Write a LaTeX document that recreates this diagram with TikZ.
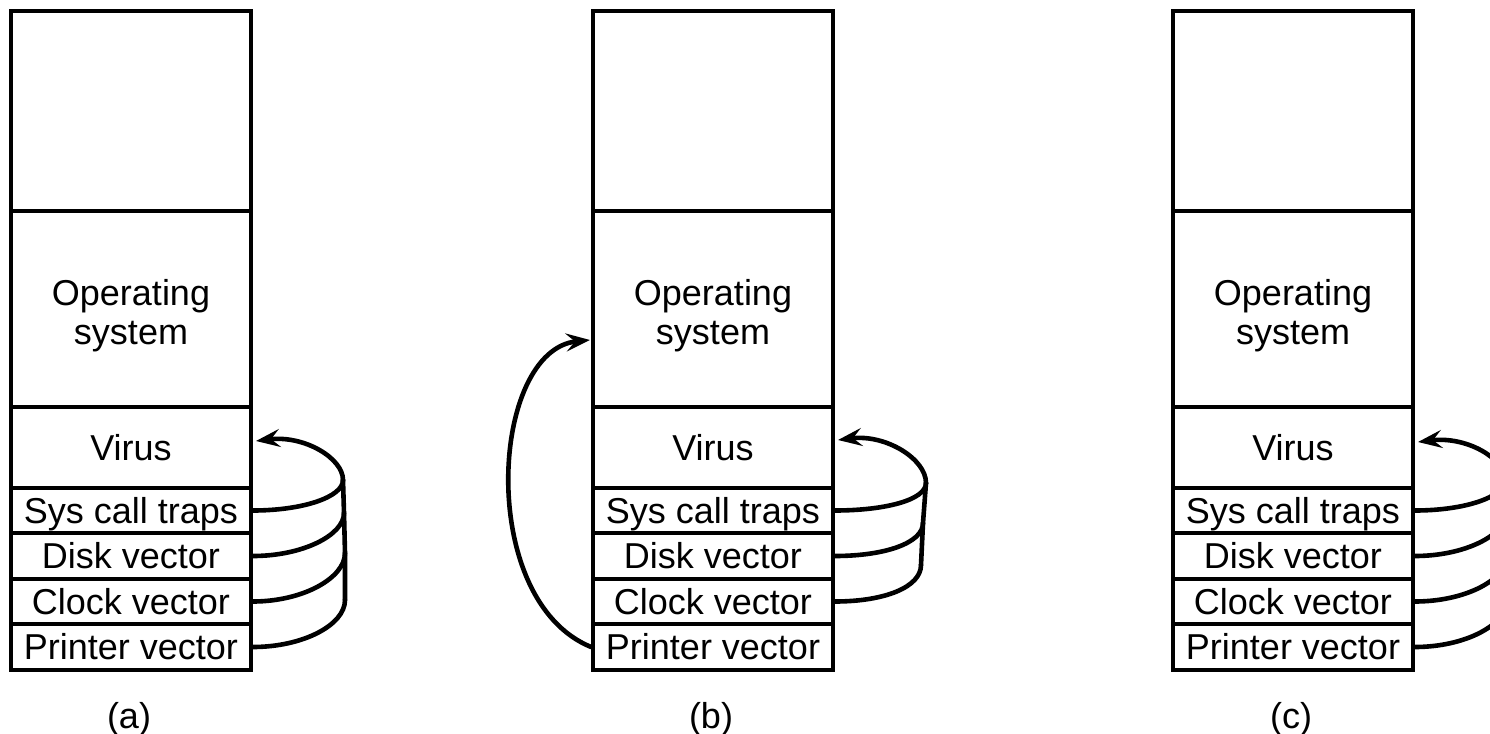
\documentclass[tikz,border=0pt]{standalone}
\usepackage{fontspec}
\setmainfont{Liberation Sans}
\usetikzlibrary{arrows.meta}
\tikzset{
  cell/.style={draw, line width=1.9pt, minimum width=120pt, inner sep=0pt, fill=white},
  onerow/.style={text height=12.9pt, text depth=0pt},
  conn/.style={line width=2.3pt, line cap=round},
  tip/.style={-{Stealth[length=12pt,width=9pt,inset=4.5pt]}},
  caption/.style={anchor=base, inner sep=0pt},
  plaintext/.style={inner sep=0pt, align=center}
}
\newcommand{\memcol}[2]{%
  \node[cell, minimum height=100pt] (#1top) at (#2,111) {};
  \node[cell, minimum height=98pt] (#1os) at (#2,309) {};
  \node[plaintext] (#1ostext) at (#2,316) {Operating\\system};
  \node[cell, onerow, minimum height=40.5pt] (#1virus) at (#2,447.5) {Virus};
  \node[cell, onerow, minimum height=22.5pt] (#1sys) at (#2,510.5) {Sys call traps};
  \node[cell, onerow, minimum height=23pt] (#1disk) at (#2,556) {Disk vector};
  \node[cell, onerow, minimum height=22.5pt] (#1clock) at (#2,601.5) {Clock vector};
  \node[cell, onerow, minimum height=23pt] (#1printer) at (#2,647) {Printer vector};
}
\begin{document}
\begin{tikzpicture}[x=0.5pt, y=-0.5pt, font=\fontsize{18}{19.5}\selectfont]
\useasboundingbox (0,0) rectangle (1490,734);
\fill[white] (0,0) rectangle (1490,734);
\clip (0,0) rectangle (1490,734);

% columns
\memcol{a}{131}
\memcol{b}{713}
\memcol{c}{1293}

% captions
\node[caption] (capa) at (129,728) {(a)};
\node[caption] (capb) at (711,728) {(b)};
\node[caption] (capc) at (1291,728) {(c)};

% ---- (a): all vectors point to virus
\coordinate (aj1) at (343,480);
\coordinate (aj2) at (344,513);
\coordinate (aj3) at (345,553);
\coordinate (aj4) at (345,600);
\coordinate (atip) at (256,441);
\draw[conn] (aj1) -- (aj2) -- (aj3) -- (aj4);
\draw[conn,tip] (aj1) .. controls +(0,-22) and +(48,-6) .. (atip);
\draw[conn] (asys.east) .. controls +(50,0) and +(0,17) .. (aj1);
\draw[conn] (adisk.east) .. controls +(50,0) and +(0,22) .. (aj2);
\draw[conn] (aclock.east) .. controls +(50,0) and +(0,25) .. (aj3);
\draw[conn] (aprinter.east) .. controls +(50,0) and +(0,25) .. (aj4);

% ---- (b): printer vector back to OS
\coordinate (bj1) at (926,483);
\coordinate (bj2) at (923,523);
\coordinate (bj3) at (921,565);
\coordinate (btip) at (838,440);
\coordinate (bostip) at (590,340);
\draw[conn] (bj1) -- (bj2) -- (bj3);
\draw[conn,tip] (bj1) .. controls +(0,-24) and +(48,-6) .. (btip);
\draw[conn] (bsys.east) .. controls +(50,0) and +(0,17) .. (bj1);
\draw[conn] (bdisk.east) .. controls +(50,0) and +(0,20) .. (bj2);
\draw[conn] (bclock.east) .. controls +(50,0) and +(0,22) .. (bj3);
\draw[conn,tip] (bprinter.west) .. controls (476,600) and (490,350) .. (bostip);

% ---- (c): all vectors recaptured (curves run past the edge)
\coordinate (cj1) at (1505,480);
\coordinate (cj2) at (1506,513);
\coordinate (cj3) at (1507,555);
\coordinate (cj4) at (1507,600);
\coordinate (ctip) at (1418,442);
\draw[conn] (cj1) -- (cj2) -- (cj3) -- (cj4);
\draw[conn,tip] (cj1) .. controls +(0,-22) and +(48,-6) .. (ctip);
\draw[conn] (csys.east) .. controls +(50,0) and +(0,17) .. (cj1);
\draw[conn] (cdisk.east) .. controls +(50,0) and +(0,22) .. (cj2);
\draw[conn] (cclock.east) .. controls +(50,0) and +(0,25) .. (cj3);
\draw[conn] (cprinter.east) .. controls +(50,0) and +(0,25) .. (cj4);
\end{tikzpicture}
\end{document}
